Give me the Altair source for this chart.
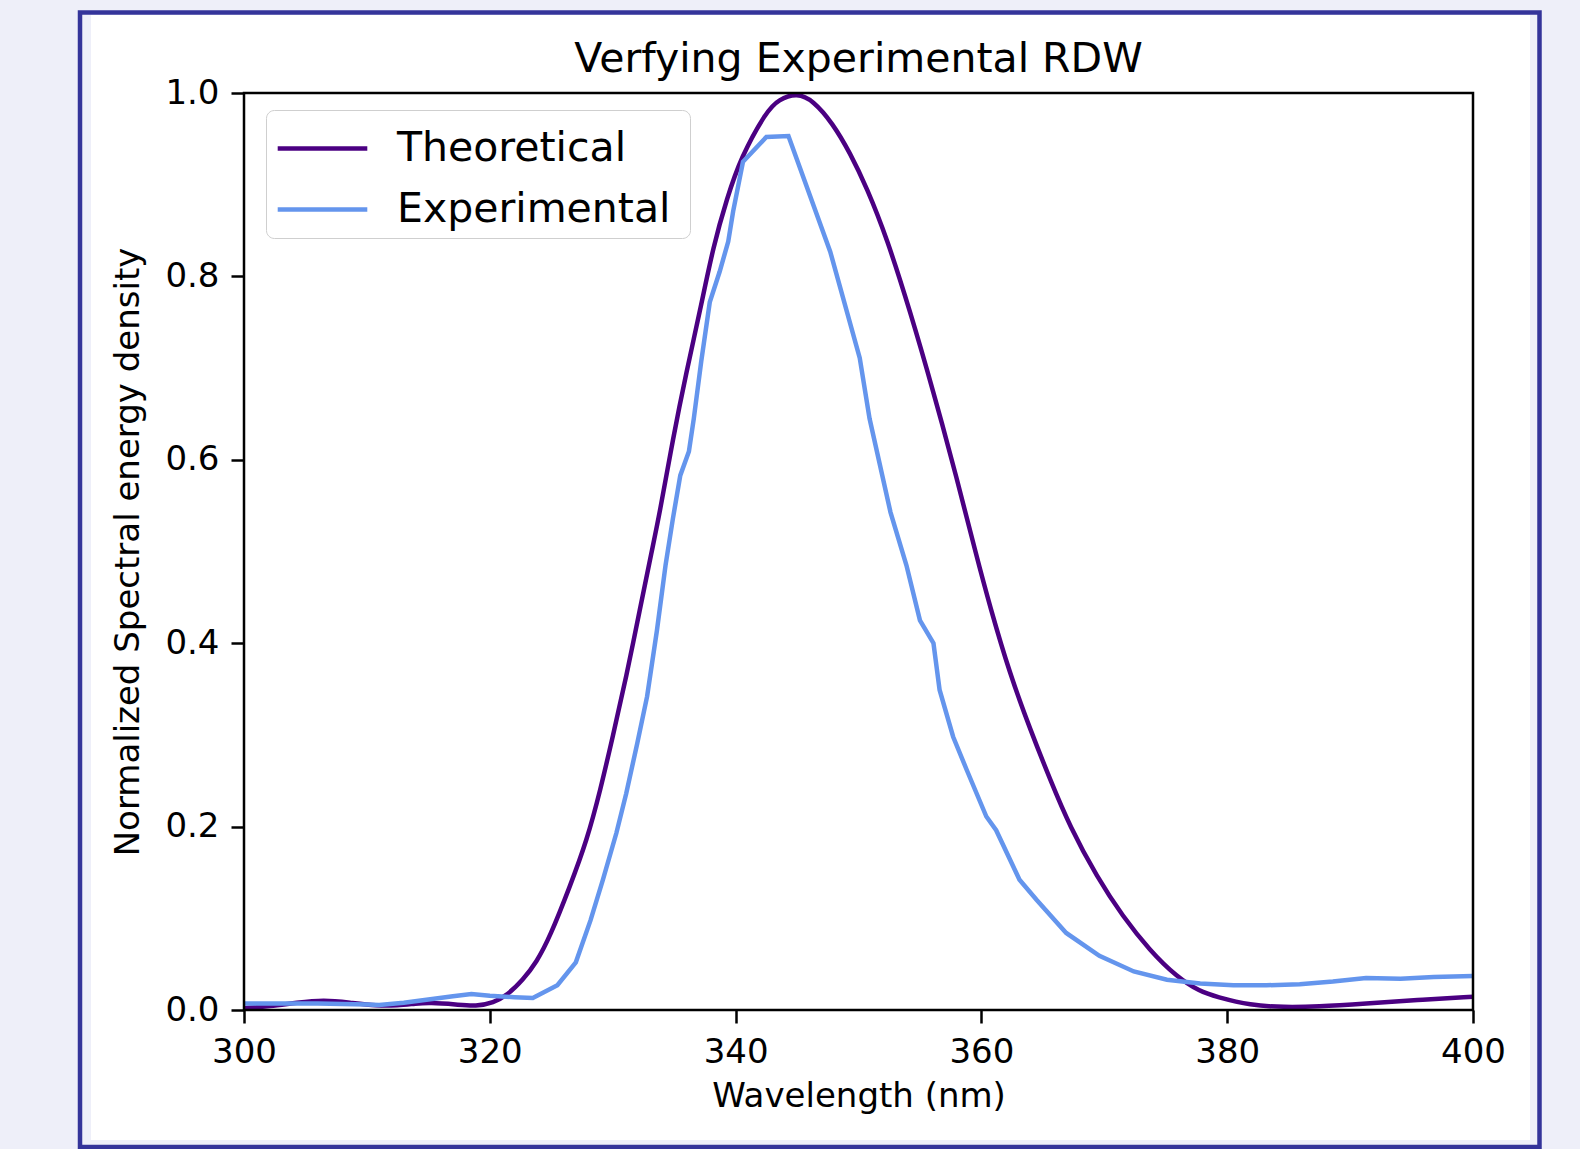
import altair as alt
import pandas as pd

# ---- data ----
theo_wl = [300.0, 302.1, 304.3, 306.5, 308.6, 310.8, 312.5, 314.0, 315.1, 317.3, 318.9,
           320.3, 321.4, 322.7, 323.8, 324.9, 326.5, 327.9, 329.0, 330.0, 331.1, 332.2,
           333.2, 333.8, 334.9, 336.0, 337.1, 338.2, 339.3, 340.4, 342.5, 343.5, 345.0,
           346.3, 347.9, 349.3, 350.7, 352.3, 354.2, 356.1, 358.0, 359.6, 360.7, 362.3,
           364.0, 365.6, 367.2, 369.4, 371.5, 373.7, 375.9, 377.8, 379.1, 381.9, 384.6,
           387.3, 391.3, 395.4, 400.0]
theo_val = [0.002, 0.004, 0.008, 0.011, 0.008, 0.0045, 0.005, 0.007, 0.008, 0.006, 0.004,
            0.008, 0.016, 0.033, 0.052, 0.080, 0.134, 0.185, 0.240, 0.298, 0.363, 0.436,
            0.502, 0.540, 0.623, 0.696, 0.762, 0.834, 0.885, 0.929, 0.980, 0.993, 1.000,
            0.992, 0.967, 0.935, 0.896, 0.842, 0.762, 0.674, 0.580, 0.495, 0.440, 0.367,
            0.305, 0.251, 0.200, 0.145, 0.102, 0.065, 0.036, 0.020, 0.0145, 0.005, 0.003,
            0.0036, 0.007, 0.011, 0.0145]

exp_wl = [300.0, 302.0, 304.0, 306.0, 308.0, 310.0, 311.0, 313.0, 315.0, 317.0, 318.5,
          320.0, 322.0, 323.5, 325.5, 327.0, 328.2, 329.2, 330.3, 331.1, 332.0, 332.8,
          333.6, 334.3, 334.9, 335.5, 336.2, 336.6, 337.2, 337.9, 338.7, 339.4, 339.8,
          340.6, 342.5, 344.3, 347.7, 350.1, 350.9, 352.6, 353.9, 355.0, 356.1, 356.6,
          357.7, 358.8, 360.4, 361.2, 363.1, 364.5, 366.9, 369.6, 372.4, 375.1, 377.8,
          380.5, 383.2, 385.9, 388.6, 391.3, 394.1, 396.8, 400.0]
exp_val = [0.007, 0.007, 0.007, 0.007, 0.0065, 0.006, 0.0055, 0.008, 0.0115, 0.015, 0.0175,
           0.0155, 0.014, 0.013, 0.027, 0.052, 0.098, 0.142, 0.193, 0.236, 0.291, 0.342,
           0.414, 0.485, 0.536, 0.583, 0.609, 0.645, 0.707, 0.772, 0.805, 0.838, 0.871,
           0.925, 0.952, 0.953, 0.827, 0.711, 0.645, 0.543, 0.485, 0.425, 0.400, 0.349,
           0.298, 0.262, 0.211, 0.196, 0.142, 0.120, 0.084, 0.059, 0.042, 0.033, 0.029,
           0.027, 0.027, 0.028, 0.031, 0.035, 0.034, 0.036, 0.037]

series_names = ["Theoretical", "Experimental"]
series_colors = ["#4B0082", "#6495ED"]
x_ticks = [300, 320, 340, 360, 380, 400]
y_ticks = [0.0, 0.2, 0.4, 0.6, 0.8, 1.0]

W, H = 1229, 917
FONT = "DejaVu Sans"
PAGE_BG = "#eeeff9"

theo_df = pd.DataFrame({"wl": theo_wl, "val": theo_val, "series": series_names[0]})
exp_df = pd.DataFrame({"wl": exp_wl, "val": exp_val, "series": series_names[1]})

axis_common = dict(
    domain=False, grid=False, ticks=True, tickSize=13, tickWidth=2.5, tickColor="black",
    labelFontSize=34, labelFont=FONT, labelColor="black",
    titleFontSize=34, titleFont=FONT, titleFontWeight="normal", titleColor="black",
    labelPadding=12, zindex=1, labelFlush=False, labelOverlap=False,
)

x_enc = alt.X("wl:Q",
              scale=alt.Scale(domain=[300, 400], nice=False, zero=False),
              axis=alt.Axis(values=x_ticks, format="d", title="Wavelength (nm)",
                            titlePadding=10, **axis_common))
y_enc = alt.Y("val:Q",
              scale=alt.Scale(domain=[0, 1], nice=False),
              axis=alt.Axis(values=y_ticks, format=".1f",
                            title="Normalized Spectral energy density", titlePadding=19,
                            **axis_common))
color_enc = alt.Color(
    "series:N",
    scale=alt.Scale(domain=series_names, range=series_colors),
    legend=alt.Legend(
        title=None, orient="none", legendX=22, legendY=17, direction="vertical",
        symbolType="M-1.6,0H1.6M12.5,0", symbolSize=3136, symbolStrokeWidth=4.5,
        symbolOffset=18, labelOffset=44, labelFontSize=41, labelFont=FONT,
        labelColor="black", rowPadding=10, padding=8, strokeColor="#cfcfcf",
        fillColor="rgba(255,255,255,0.8)", cornerRadius=8, labelLimit=0,
    ),
)

# decorative frame (page border around the figure)
deco = alt.Data(values=[{"k": 0}])
outer = alt.Chart(deco).mark_rect(fill=PAGE_BG, stroke="#34349a", strokeWidth=4.5).encode(
    x=alt.value(-164), x2=alt.value(1295.5), y=alt.value(-80.5), y2=alt.value(1054))
inner = alt.Chart(deco).mark_rect(fill="white").encode(
    x=alt.value(-153), x2=alt.value(1286), y=alt.value(-78), y2=alt.value(1047))

theo = alt.Chart(theo_df).mark_line(strokeWidth=4.5, interpolate="basis").encode(
    x=x_enc, y=y_enc, color=color_enc)
expl = alt.Chart(exp_df).mark_line(strokeWidth=4.5).encode(
    x=x_enc, y=y_enc, color=color_enc)

border = alt.Chart(deco).mark_rect(fill="transparent", stroke="black", strokeWidth=2.5).encode(
    x=alt.value(0), x2=alt.value(W), y=alt.value(0), y2=alt.value(H))

chart = alt.layer(outer, inner, theo, expl, border).properties(
    width=W, height=H,
    autosize=alt.AutoSizeParams(type="none"),
    padding={"left": 244, "top": 93, "right": 107, "bottom": 139},
    background=PAGE_BG,
    title=alt.Title("Verfying Experimental RDW", fontSize=41, font=FONT, fontWeight="normal",
                    color="black", anchor="middle", frame="group", baseline="alphabetic",
                    offset=-103),
).configure_view(stroke=None)

chart.save("out.html", embed_options={"renderer": "svg", "actions": False})
